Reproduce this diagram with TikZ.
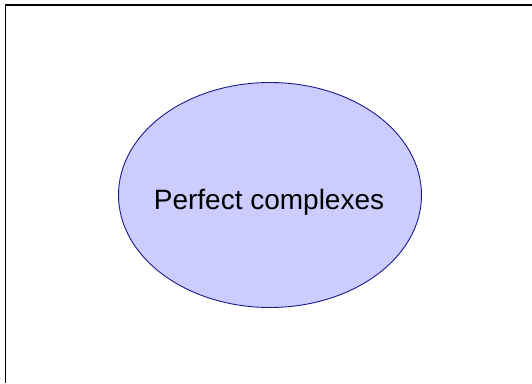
\documentclass[tikz,border=0pt]{standalone}
\usepackage{fontspec}
\setmainfont{Liberation Sans}
\usetikzlibrary{shapes.geometric}
\definecolor{ellfill}{HTML}{CCCCFF}
\definecolor{ellline}{HTML}{1A1A8C}
\begin{document}
\begin{tikzpicture}[x=1pt,y=1pt,
  blob/.style={ellipse,draw=ellline,fill=ellfill,line width=0.9pt,minimum width=303pt,minimum height=225pt,inner sep=0pt},
  lbl/.style={font=\fontsize{28}{32}\selectfont,inner sep=0pt,anchor=base}]
\useasboundingbox (0,0) rectangle (532,383);
\draw[line width=1.5pt] (5.5,0) -- (5.5,378) -- (532,378);
\node[blob] (e) at (270,188) {};
\node[lbl] (t) at (269,173) {Perfect complexes};
\end{tikzpicture}
\end{document}
